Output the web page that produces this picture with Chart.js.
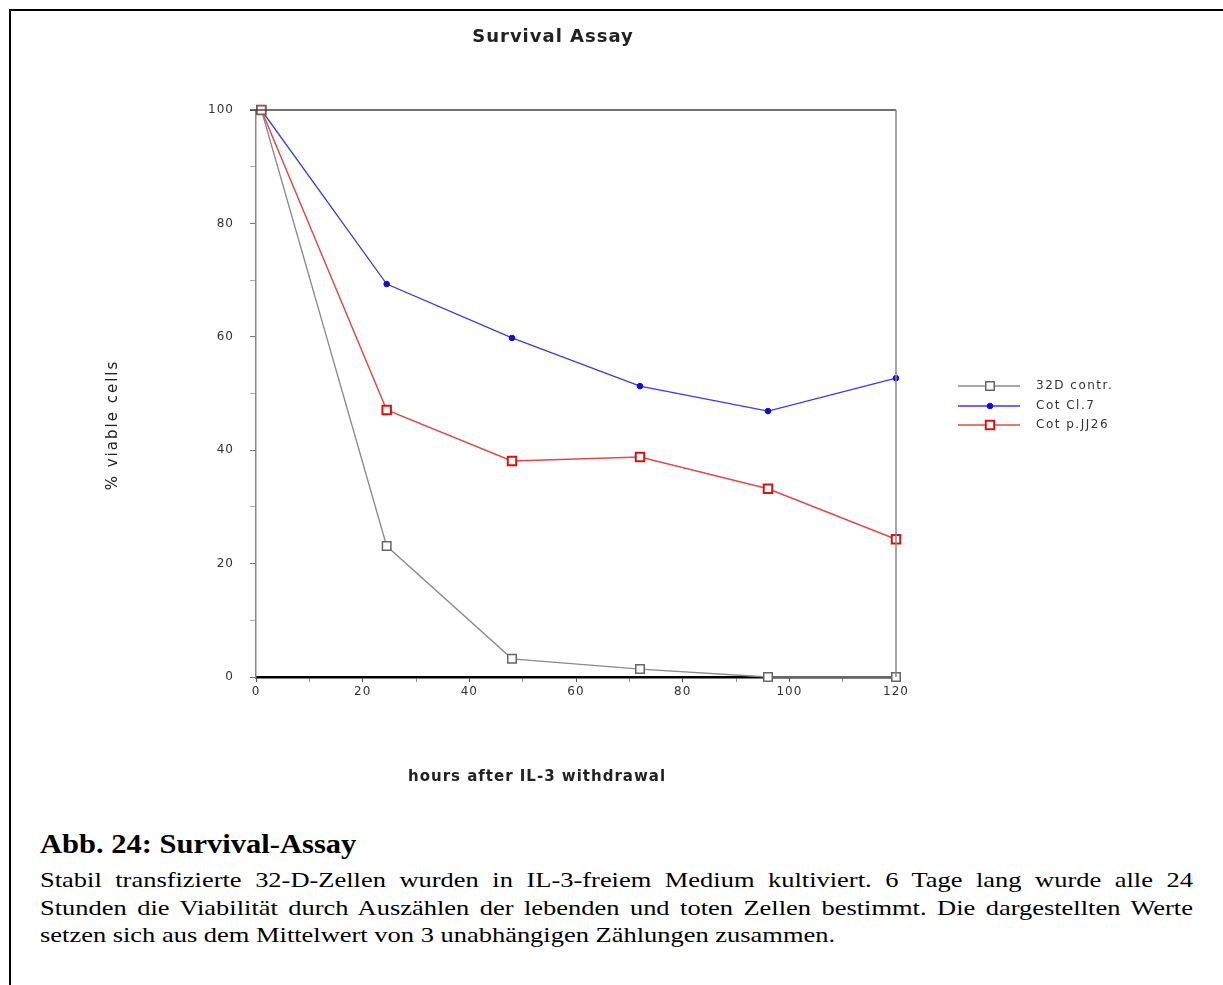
<!DOCTYPE html>
<html>
<head>
<meta charset="utf-8">
<script src="https://cdn.jsdelivr.net/npm/chart.js@4.4.1/dist/chart.umd.min.js"></script>
<style>
  html, body { margin: 0; padding: 0; background: #fff; }
  body { width: 1223px; height: 985px; position: relative; overflow: hidden; }
  #frame { position: absolute; left: 9px; top: 9px; width: 1300px; height: 1000px;
           border-left: 2px solid #000; border-top: 2px solid #000; }
  #wrap { position: absolute; left: 0; top: 0; width: 1223px; height: 800px; }
  #cap { position: absolute; left: 40px; top: 826px;
         font-family: "Liberation Serif", "Times New Roman", serif; color: #000; }
  #cap h2 { margin: 0; font-size: 28px; font-weight: bold; line-height: 36px;
            transform: scaleX(1.09); transform-origin: left top; white-space: nowrap; }
  #para { margin-top: 5px; width: 915px; transform: scaleX(1.26); transform-origin: left top; }
  #cap .l { font-size: 21px; line-height: 27.5px; text-align: justify; text-align-last: justify; white-space: nowrap; }
  #cap .l.last { text-align-last: left; }
</style>
</head>
<body>
<div id="frame"></div>
<div id="wrap"><canvas id="c" width="1223" height="800"></canvas></div>
<div id="cap">
  <h2>Abb. 24: Survival-Assay</h2>
  <div id="para">
    <div class="l">Stabil transfizierte 32-D-Zellen wurden in IL-3-freiem Medium kultiviert. 6 Tage lang wurde alle 24</div>
    <div class="l">Stunden die Viabilität durch Auszählen der lebenden und toten Zellen bestimmt. Die dargestellten Werte</div>
    <div class="l last">setzen sich aus dem Mittelwert von 3 unabhängigen Zählungen zusammen.</div>
  </div>
</div>
<script>
const chartTitle = "Survival Assay";
const xTitle = "hours after IL-3 withdrawal";
const yTitle = "% viable cells";
const seriesNames = ["32D contr.", "Cot Cl.7", "Cot p.JJ26"];
const hours = [1, 24.5, 48, 72, 96, 120];
const ctrl32D = [100, 23.1, 3.2, 1.4, 0, 0];
const cotCl7 = [100, 69.3, 59.8, 51.3, 46.9, 52.7];
const cotPJJ26 = [100, 47.1, 38.1, 38.8, 33.2, 24.3];

function pts(vals) { return hours.map((h, i) => ({ x: h, y: vals[i] })); }

const styles = [
  { line: "#8a8a8a", pt: "rect", r: 6, fill: "#ffffff", stroke: "#666666", bw: 1.5, lw: 1.3 },
  { line: "#3a3aee", pt: "circle", r: 2.8, fill: "#1010cc", stroke: "#1010cc", bw: 1, lw: 1.3 },
  { line: "#e24a4a", pt: "rect", r: 6, fill: "#ffffff", stroke: "#dd1111", bw: 2, lw: 1.5 }
];
const seriesVals = [ctrl32D, cotCl7, cotPJJ26];

const datasets = seriesVals.map((v, i) => ({
  label: seriesNames[i],
  data: pts(v),
  borderColor: styles[i].line,
  borderWidth: styles[i].lw,
  pointStyle: styles[i].pt,
  pointRadius: styles[i].r,
  pointBackgroundColor: styles[i].fill,
  pointBorderColor: styles[i].stroke,
  pointBorderWidth: styles[i].bw,
  tension: 0,
  clip: false
}));

const decor = {
  id: "decor",
  beforeDraw(chart) {
    chart.ctx.letterSpacing = "1px";
  },
  afterDraw(chart) {
    const c = chart.ctx, a = chart.chartArea;
    c.save();
    c.letterSpacing = "0px";
    // frame top & right
    c.strokeStyle = "#444"; c.lineWidth = 1.5;
    c.beginPath(); c.moveTo(a.left - 6, a.top); c.lineTo(a.right, a.top); c.stroke();
    c.strokeStyle = "#8a8a8a"; c.lineWidth = 1.5;
    c.beginPath(); c.moveTo(a.right, a.top); c.lineTo(a.right, a.bottom); c.stroke();
    // titles
    c.fillStyle = "#222";
    c.textAlign = "center"; c.textBaseline = "middle";
    c.letterSpacing = "1px";
    c.font = "bold 18px 'DejaVu Sans'";
    c.fillText(chartTitle, 553, 37);
    c.font = "bold 15px 'DejaVu Sans'";
    c.fillText(xTitle, 537, 777);
    c.save();
    c.translate(113, 425); c.rotate(-Math.PI / 2);
    c.letterSpacing = "2px";
    c.font = "15px 'DejaVu Sans'";
    c.fillText(yTitle, 0, 0);
    c.restore();
    // legend
    const ly = [386, 406, 425];
    c.font = "12px 'DejaVu Sans'";
    c.letterSpacing = "1.5px";
    c.textAlign = "left";
    styles.forEach((s, i) => {
      c.strokeStyle = s.line; c.lineWidth = s.lw;
      c.beginPath(); c.moveTo(958, ly[i]); c.lineTo(1020, ly[i]); c.stroke();
      c.lineWidth = s.bw; c.strokeStyle = s.stroke; c.fillStyle = s.fill;
      if (s.pt === "rect") {
        const h = s.r * Math.SQRT1_2;
        c.fillRect(990 - h, ly[i] - h, 2 * h, 2 * h);
        c.strokeRect(990 - h, ly[i] - h, 2 * h, 2 * h);
      } else {
        c.beginPath(); c.arc(990, ly[i], s.r, 0, Math.PI * 2); c.fill(); c.stroke();
      }
      c.fillStyle = "#333";
      c.fillText(seriesNames[i], 1036, ly[i]);
    });
    c.restore();
  }
};

new Chart(document.getElementById("c"), {
  type: "line",
  data: { datasets },
  options: {
    responsive: false,
    animation: false,
    layout: { padding: { left: 0, right: 327, top: 110, bottom: 0 } },
    plugins: { legend: { display: false }, title: { display: false }, tooltip: { enabled: false } },
    scales: {
      x: {
        type: "linear", min: 0, max: 120,
        afterFit(s) { s.height = 123; },
        border: { color: "#000", width: 2.5 },
        grid: { drawOnChartArea: false, drawTicks: true, tickLength: 5,
                tickColor: (ctx) => (ctx.tick && ctx.tick.value % 20 === 0) ? "#555" : "#999" },
        ticks: { stepSize: 10, autoSkip: false, maxRotation: 0, padding: 3, color: "#333",
                 font: { family: "DejaVu Sans", size: 12 },
                 callback: (v) => (v % 20 === 0 ? String(v) : "") }
      },
      y: {
        type: "linear", min: 0, max: 100,
        afterFit(s) { s.width = 256; },
        border: { color: "#8a8a8a", width: 1.5 },
        grid: { drawOnChartArea: false, drawTicks: true, tickLength: 6,
                tickColor: (ctx) => (ctx.tick && ctx.tick.value % 20 === 0) ? "#777" : "#aaa" },
        ticks: { stepSize: 10, autoSkip: false, padding: 16, color: "#333",
                 font: { family: "DejaVu Sans", size: 12 },
                 callback: (v) => (v % 20 === 0 ? String(v) : "") }
      }
    }
  },
  plugins: [decor]
});
</script>
</body>
</html>
